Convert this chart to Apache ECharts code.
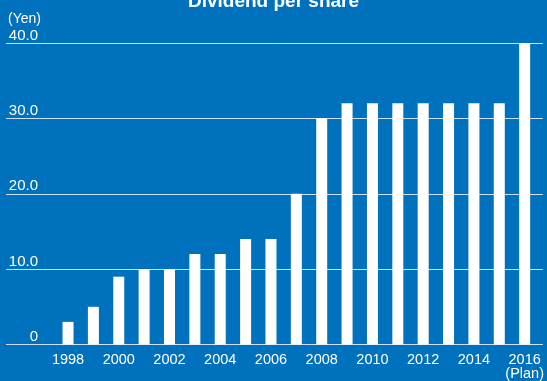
<!DOCTYPE html>
<html>
<head>
<meta charset="utf-8">
<style>
html,body{margin:0;padding:0;background:#0071bc;}
#chart{width:547px;height:381px;}
</style>
<script src="https://cdn.jsdelivr.net/npm/echarts@6/dist/echarts.min.js"></script>
</head>
<body>
<div id="chart"></div>
<script>
var years = [1998,1999,2000,2001,2002,2003,2004,2005,2006,2007,2008,2009,2010,2011,2012,2013,2014,2015,2016];
var dividends = [3,5,9,10,10,12,12,14,14,20,30,32,32,32,32,32,32,32,40];
var yearLabels = [1998,2000,2002,2004,2006,2008,2010,2012,2014,2016];
var yTicks = [0,10,20,30,40];

var chart = echarts.init(document.getElementById('chart'));
var FONT = '"Liberation Sans", Arial, Helvetica, sans-serif';
chart.setOption({
  backgroundColor: '#0071bc',
  animation: false,
  title: {
    text: 'Dividend per share',
    left: 'center',
    top: -13,
    textStyle: {color: '#ffffff', fontSize: 19, fontWeight: 'bold', fontFamily: FONT}
  },
  graphic: [{
    type: 'text',
    left: 8,
    top: 12,
    style: {text: '(Yen)', fill: '#ffffff', fontSize: 14, fontFamily: FONT}
  }],
  grid: {left: 6, right: 0, top: 43, bottom: 35, containLabel: false},
  xAxis: {
    type: 'value',
    min: 1995.555,
    max: 2016.72,
    splitLine: {show: false},
    axisLine: {show: false},
    axisTick: {show: false},
    axisLabel: {
      customValues: yearLabels,
      color: '#ffffff',
      fontSize: 14.5,
      fontFamily: FONT,
      margin: 8,
      lineHeight: 14,
      formatter: function (v) { return v === 2016 ? '2016\n(Plan)' : String(v); }
    }
  },
  yAxis: {
    type: 'value',
    min: 0,
    max: 40,
    interval: 10,
    axisLine: {show: false},
    axisTick: {show: false},
    splitLine: {lineStyle: {color: 'rgba(255,255,255,0.8)', width: 1}},
    axisLabel: {
      inside: true,
      margin: 32,
      align: 'right',
      verticalAlign: 'bottom',
      color: '#ffffff',
      fontSize: 15,
      fontFamily: FONT,
      formatter: function (v) { return v === 0 ? '0' : v.toFixed(1); }
    }
  },
  series: [{
    type: 'bar',
    barWidth: 11,
    itemStyle: {color: '#ffffff'},
    data: years.map(function (y, i) { return [y, dividends[i]]; })
  }]
});
</script>
</body>
</html>
